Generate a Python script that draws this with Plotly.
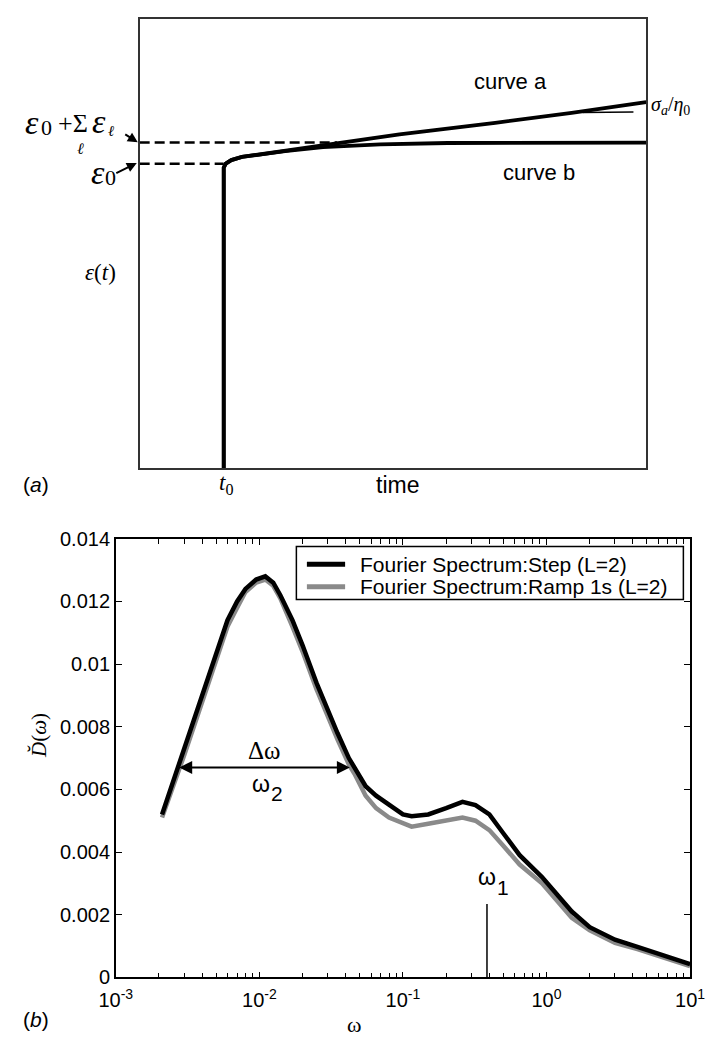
import math
import plotly.graph_objects as go

# reference canvas 728x1050; the page adds an 8px body margin, so the figure is 720x1042
W, H = 728, 1050
OFF = 8
FW, FH = W - OFF, H - OFF

# ---------------- panel (a) schematic data ----------------
time_a = [1.66, 1.66, 1.70, 1.81, 2.02, 2.40, 2.87, 3.62, 5.13, 7.02, 8.53, 10.0]
strain_a = [0, 6.69, 6.78, 6.86, 6.93, 6.99, 7.06, 7.19, 7.43, 7.69, 7.91, 8.15]
time_b = [1.66, 1.66, 1.70, 1.81, 2.02, 2.40, 2.87, 3.62, 4.75, 6.08, 10.0]
strain_b = [0, 6.69, 6.78, 6.86, 6.93, 6.99, 7.06, 7.15, 7.21, 7.24, 7.25]
asym_t = [8.75, 9.75]
asym_s = [7.92, 7.93]
t0 = 1.66
eps0_level = 6.78
eps_sum_level = 7.25
eps_sum_end = 3.9

# ---------------- panel (b) spectrum data ----------------
omega = [0.0021, 0.0027, 0.003, 0.004, 0.005, 0.006, 0.007, 0.008, 0.0095, 0.011,
         0.0125, 0.014, 0.017, 0.02, 0.025, 0.03, 0.035, 0.042, 0.046, 0.055,
         0.065, 0.08, 0.1, 0.115, 0.15, 0.2, 0.26, 0.32, 0.4, 0.5, 0.65, 0.93,
         1.2, 1.5, 2.0, 3.0, 4.3, 7.0, 10.0]
step_L2 = [0.0052, 0.0067, 0.0073, 0.0090, 0.0103, 0.0114, 0.0120, 0.0124, 0.0127, 0.0128,
           0.0126, 0.0122, 0.0114, 0.0106, 0.0094, 0.0085, 0.0078, 0.0070, 0.0067, 0.0061,
           0.0058, 0.0055, 0.0052, 0.00514, 0.0052, 0.0054, 0.0056, 0.0055, 0.0052, 0.0046,
           0.0039, 0.0032, 0.0026, 0.0021, 0.0016, 0.0012, 0.00097, 0.00066, 0.00042]
ramp_L2 = [0.0051, 0.0065, 0.0071, 0.0088, 0.0101, 0.0112, 0.0118, 0.0123, 0.0126, 0.0127,
           0.0125, 0.0121, 0.0112, 0.0104, 0.0092, 0.0083, 0.0076, 0.0068, 0.0065, 0.0058,
           0.0054, 0.0051, 0.0049, 0.00481, 0.0049, 0.0050, 0.0051, 0.0050, 0.0047, 0.0042,
           0.0036, 0.0030, 0.0024, 0.0019, 0.0015, 0.0011, 0.0009, 0.0006, 0.00036]
delta_omega = [0.0027, 0.0427]
delta_level = 0.0067
omega1 = 0.385
omega1_top = 0.00234

legend_names = ["Fourier Spectrum:Step (L=2)", "Fourier Spectrum:Ramp 1s (L=2)"]
legend_colors = ["black", "#8a8a8a"]

x_ticks = [0.001, 0.01, 0.1, 1, 10]
x_ticktext = ["10<sup>-3</sup>", "10<sup>-2</sup>", "10<sup>-1</sup>", "10<sup>0</sup>", "10<sup>1</sup>"]
y_ticks = [0, 0.002, 0.004, 0.006, 0.008, 0.01, 0.012, 0.014]
y_ticktext = ["0", "0.002", "0.004", "0.006", "0.008", "0.01", "0.012", "0.014"]

SANS = "Liberation Sans, Arial, sans-serif"
SERIF = "Liberation Serif, Times New Roman, serif"


def px(x):
    return (x - OFF) / FW


def py(y):
    return 1 - (y - OFF) / FH


fig = go.Figure()

# ---------- panel (a) ----------
fig.add_trace(go.Scatter(x=[0, t0], y=[eps0_level, eps0_level], mode="lines",
                         line=dict(color="black", width=2.5, dash="10px,5px"),
                         xaxis="x", yaxis="y", showlegend=False))
fig.add_trace(go.Scatter(x=[0, eps_sum_end], y=[eps_sum_level, eps_sum_level], mode="lines",
                         line=dict(color="black", width=2.5, dash="10px,5px"),
                         xaxis="x", yaxis="y", showlegend=False))
fig.add_trace(go.Scatter(x=time_b, y=strain_b, mode="lines",
                         line=dict(color="black", width=3.8),
                         xaxis="x", yaxis="y", showlegend=False))
fig.add_trace(go.Scatter(x=time_a, y=strain_a, mode="lines",
                         line=dict(color="black", width=3.8),
                         xaxis="x", yaxis="y", showlegend=False))
fig.add_trace(go.Scatter(x=asym_t, y=asym_s, mode="lines",
                         line=dict(color="black", width=1.5),
                         xaxis="x", yaxis="y", showlegend=False))

# ---------- panel (b) ----------
fig.add_trace(go.Scatter(x=omega, y=ramp_L2, mode="lines", name=legend_names[1],
                         line=dict(color=legend_colors[1], width=4.5),
                         xaxis="x2", yaxis="y2", showlegend=False))
fig.add_trace(go.Scatter(x=omega, y=step_L2, mode="lines", name=legend_names[0],
                         line=dict(color=legend_colors[0], width=4.5),
                         xaxis="x2", yaxis="y2", showlegend=False))
fig.add_trace(go.Scatter(x=[omega1, omega1], y=[0, omega1_top], mode="lines",
                         line=dict(color="black", width=1.5),
                         xaxis="x2", yaxis="y2", showlegend=False))

anns = []
shapes = []


def text_px(t, x, y, size, fam=SANS, xa="center", ya="middle", angle=0):
    anns.append(dict(text=t, x=px(x), y=py(y), xref="paper", yref="paper",
                     showarrow=False, xanchor=xa, yanchor=ya, textangle=angle,
                     font=dict(size=size, family=fam, color="black")))


# panel (a) texts
text_px("curve a", 516, 72, 22)
text_px("curve b", 546, 165, 22)
text_px("<i>σ<sub>a</sub></i>/<i>η</i><sub>0</sub>", 661, 96, 20, SERIF, xa="left")
text_px("<i>ε</i>", 15, 114, 34, SERIF)
text_px("0", 31, 119, 22, SERIF)
text_px("+Σ", 40, 115, 26, SERIF, xa="left")
text_px("<i>ε</i>", 85, 113, 34, SERIF)
text_px("<i>ℓ</i>", 98, 122, 15, SERIF)
text_px("<i>ℓ</i>", 66, 140, 16, SERIF)
text_px("<i>ε</i>", 84, 165, 34, SERIF)
text_px("0", 97, 170, 22, SERIF)
text_px("<i>ε</i>(<i>t</i>)", 87, 267, 23, SERIF)
text_px("<i>t</i><sub>0</sub>", 218, 483, 23, SERIF)
text_px("time", 398, 484, 23)
text_px("(<i>a</i>)", 20, 484, 21)

# arrows in panel (a)
anns.append(dict(x=px(126), y=py(134), ax=-14, ay=-9, xref="paper", yref="paper",
                 showarrow=True, arrowhead=2, arrowsize=1,
                 arrowwidth=2, arrowcolor="black", text=""))
anns.append(dict(x=px(125), y=py(155), ax=-22, ay=11, xref="paper", yref="paper",
                 showarrow=True, arrowhead=2, arrowsize=1,
                 arrowwidth=2, arrowcolor="black", text=""))

# panel (b) annotations
anns.append(dict(x=math.log10(delta_omega[1]), y=delta_level,
                 ax=math.log10(delta_omega[0]), ay=delta_level,
                 xref="x2", yref="y2", axref="x2", ayref="y2", text="",
                 showarrow=True, arrowhead=2, arrowside="end+start", arrowsize=1.3,
                 arrowwidth=2, arrowcolor="black"))
text_px("Δω", 259, 755, 25, SERIF)
text_px("ω", 255, 789, 23)
text_px("2", 272, 799, 21)
text_px("ω", 492, 884, 23)
text_px("1", 508, 895, 21)
text_px("<i>D̆</i>(<i>ω</i>)", 22, 740, 21, SERIF, angle=-90)
text_px("ω", 352, 1035, 22, SERIF)
text_px("(<i>b</i>)", 20, 1030, 21)

# manual legend (box, samples, labels)
shapes.append(dict(type="rect", xref="paper", yref="paper",
                   x0=px(292), x1=px(697), y0=py(601), y1=py(547),
                   line=dict(color="black", width=1.5), fillcolor="white", layer="above"))
for i, (name, col) in enumerate(zip(legend_names, legend_colors)):
    yrow = 565 + 23 * i
    shapes.append(dict(type="line", xref="paper", yref="paper",
                       x0=px(303), x1=px(343), y0=py(yrow), y1=py(yrow),
                       line=dict(color=col, width=5), layer="above"))
    anns.append(dict(text=name, x=px(356), y=py(yrow), xref="paper", yref="paper",
                     showarrow=False, xanchor="left", yanchor="middle",
                     font=dict(size=21, family=SANS, color="black")))

minor_vals = [m * 10 ** e for e in range(-3, 1) for m in range(2, 10)]

fig.update_layout(
    width=FW, height=FH, autosize=False,
    margin=dict(l=0, r=0, t=0, b=0),
    paper_bgcolor="white", plot_bgcolor="white",
    showlegend=False,
    annotations=anns, shapes=shapes,
    xaxis=dict(domain=[px(128), px(658)], range=[0, 10], showline=True, mirror=True,
               linecolor="#333", linewidth=1.5, showgrid=False, zeroline=False,
               showticklabels=False, ticks="", anchor="y", fixedrange=True),
    yaxis=dict(domain=[py(467), py(8)], range=[0, 10], showline=True, mirror=True,
               linecolor="#333", linewidth=1.5, showgrid=False, zeroline=False,
               showticklabels=False, ticks="", anchor="x", fixedrange=True),
    xaxis2=dict(domain=[px(103), px(704)], type="log", range=[-3, 1], anchor="y2",
                showline=True, mirror="allticks", linecolor="black", linewidth=1.5,
                showgrid=False, zeroline=False, ticks="inside", ticklen=6,
                tickcolor="black", tickvals=x_ticks, ticktext=x_ticktext,
                ticklabelstandoff=4,
                tickfont=dict(size=20, family=SANS, color="black"),
                minor=dict(ticks="inside", ticklen=5, tickcolor="black", tickvals=minor_vals,
                           showgrid=False)),
    yaxis2=dict(domain=[py(987), py(539)], range=[0, 0.014], anchor="x2",
                showline=True, mirror="allticks", linecolor="black", linewidth=1.5,
                showgrid=False, zeroline=False, ticks="inside", ticklen=6,
                tickcolor="black", tickvals=y_ticks, ticktext=y_ticktext,
                tickfont=dict(size=20, family=SANS, color="black")),
)

fig.write_html("out.html")
